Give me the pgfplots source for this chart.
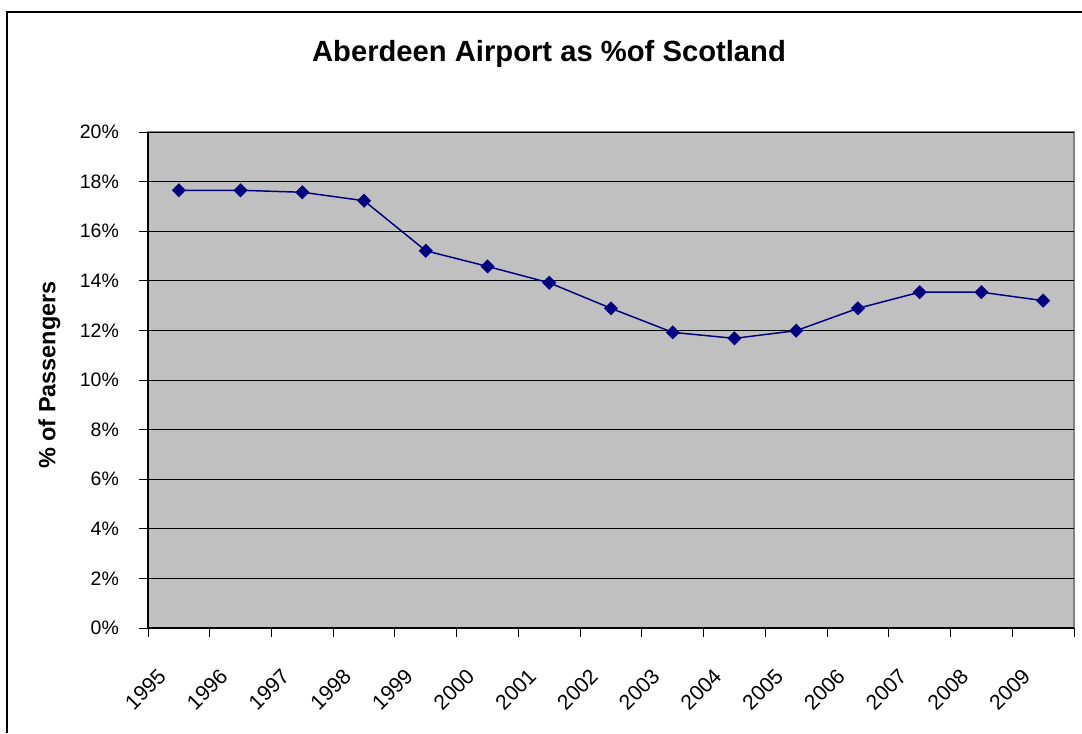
\documentclass[border=0pt]{standalone}
\usepackage{pgfplots}
\pgfplotsset{compat=1.18}
\usepackage{fontspec}
\setmainfont{Liberation Sans}

\definecolor{plotgray}{RGB}{192,192,192}
\definecolor{bordergray}{RGB}{128,128,128}
\definecolor{linenavy}{RGB}{0,0,128}

\begin{document}
\begin{tikzpicture}
% page = 1082 x 733 px, 1px = 0.75pt
\useasboundingbox (0,0) rectangle (811.5pt,549.75pt);
\draw[line width=1pt] (5.25pt,0) -- (5.25pt,540.75pt) -- (811.5pt,540.75pt);

\node[anchor=base, font=\fontsize{21.9}{24}\selectfont\bfseries]
  at (411.75pt,503.25pt) {Aberdeen Airport as \%of Scotland};
\node[rotate=90, font=\fontsize{17.6}{20}\selectfont\bfseries]
  at (37.1pt,268.5pt) {\% of Passengers};

\begin{axis}[
at={(111pt,78.75pt)}, anchor=south west,
scale only axis,
width=694.5pt, height=372pt,
xmin=0, xmax=15,
ymin=0, ymax=20,
axis x line*=bottom,
axis y line*=left,
axis line style={-, black, line width=0.9pt},
axis background/.style={fill=plotgray, draw=bordergray, line width=1.2pt},
tick align=outside,
major tick length=6.75pt,
tick style={black, line width=0.75pt},
xtick={0,...,15},
xticklabels={1995,1996,1997,1998,1999,2000,2001,2002,2003,2004,2005,2006,2007,2008,2009,{}},
ytick={0,2,...,20},
yticklabels={0\%,2\%,4\%,6\%,8\%,10\%,12\%,14\%,16\%,18\%,20\%},
ymajorgrids,
major grid style={black, line width=0.75pt},
xticklabel style={font=\fontsize{15.9}{19}\selectfont, xshift=13pt, yshift=-24.2pt, rotate=45, anchor=east},
yticklabel style={font=\fontsize{14.6}{17}\selectfont, xshift=-11.6pt},
]
\addplot[color=linenavy, line width=1.1pt, mark=square*,
  mark size=3.2pt, mark options={rotate=45, fill=linenavy, draw=linenavy}]
coordinates {
  (0.5,17.65) (1.5,17.65) (2.5,17.57) (3.5,17.23) (4.5,15.21)
  (5.5,14.58) (6.5,13.92) (7.5,12.89) (8.5,11.92) (9.5,11.68)
  (10.5,11.99) (11.5,12.89) (12.5,13.54) (13.5,13.54) (14.5,13.20)
};
\end{axis}
\end{tikzpicture}
\end{document}
